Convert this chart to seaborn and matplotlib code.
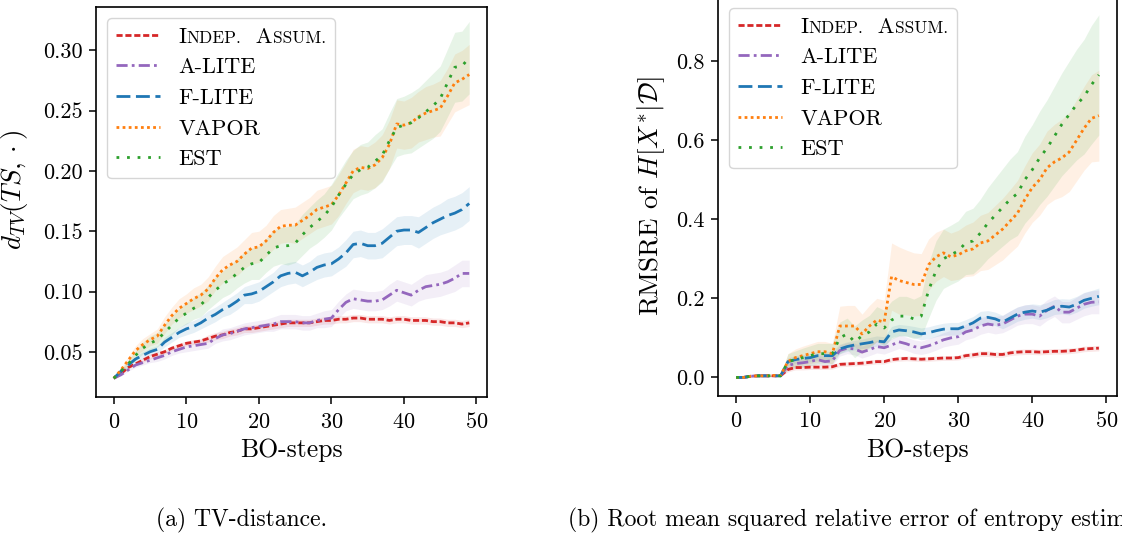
import matplotlib
matplotlib.use("Agg")
import matplotlib.pyplot as plt
from matplotlib.lines import Line2D
from matplotlib.offsetbox import TextArea, HPacker
import numpy as np
import pandas as pd
import seaborn as sns

# ---- data ------------------------------------------------------------------
steps = list(range(50))
methods = ["Indep. Assum.", "A-LITE", "F-LITE", "VAPOR", "EST"]

# (a) TV-distance, mean per BO-step
tv_indep = [0.028, 0.032, 0.037, 0.040, 0.043, 0.046, 0.048, 0.050, 0.053, 0.055,
            0.057, 0.058, 0.059, 0.061, 0.063, 0.064, 0.066, 0.067, 0.069, 0.069,
            0.070, 0.071, 0.072, 0.073, 0.074, 0.074, 0.074, 0.074, 0.075, 0.076,
            0.076, 0.077, 0.077, 0.078, 0.078, 0.077, 0.077, 0.077, 0.076, 0.077,
            0.077, 0.076, 0.076, 0.076, 0.075, 0.075, 0.074, 0.074, 0.073, 0.074]
tv_alite = [0.028, 0.031, 0.035, 0.039, 0.041, 0.043, 0.045, 0.047, 0.050, 0.052,
            0.054, 0.055, 0.056, 0.057, 0.061, 0.064, 0.065, 0.067, 0.069, 0.070,
            0.071, 0.072, 0.073, 0.075, 0.075, 0.075, 0.074, 0.074, 0.076, 0.077,
            0.078, 0.085, 0.091, 0.094, 0.093, 0.092, 0.092, 0.093, 0.097, 0.101,
            0.099, 0.097, 0.101, 0.104, 0.105, 0.106, 0.108, 0.111, 0.115, 0.115]
tv_flite = [0.028, 0.034, 0.039, 0.044, 0.047, 0.050, 0.052, 0.058, 0.062, 0.066,
            0.069, 0.071, 0.074, 0.078, 0.081, 0.085, 0.088, 0.092, 0.097, 0.098,
            0.100, 0.104, 0.108, 0.113, 0.115, 0.116, 0.113, 0.116, 0.120, 0.122,
            0.123, 0.127, 0.132, 0.139, 0.140, 0.138, 0.138, 0.140, 0.145, 0.150,
            0.151, 0.151, 0.149, 0.153, 0.157, 0.160, 0.163, 0.165, 0.168, 0.173]
tv_vapor = [0.028, 0.035, 0.043, 0.051, 0.056, 0.060, 0.063, 0.072, 0.080, 0.086,
            0.090, 0.094, 0.097, 0.102, 0.111, 0.118, 0.122, 0.125, 0.131, 0.136,
            0.137, 0.142, 0.149, 0.154, 0.155, 0.155, 0.159, 0.163, 0.168, 0.170,
            0.172, 0.180, 0.190, 0.200, 0.203, 0.202, 0.205, 0.211, 0.222, 0.239,
            0.238, 0.240, 0.245, 0.248, 0.250, 0.252, 0.262, 0.273, 0.276, 0.280]
tv_est = [0.028, 0.034, 0.040, 0.047, 0.053, 0.057, 0.060, 0.066, 0.072, 0.078,
          0.082, 0.086, 0.089, 0.095, 0.101, 0.106, 0.110, 0.115, 0.120, 0.123,
          0.124, 0.130, 0.136, 0.138, 0.138, 0.140, 0.147, 0.153, 0.158, 0.163,
          0.170, 0.180, 0.189, 0.197, 0.201, 0.203, 0.208, 0.213, 0.225, 0.236,
          0.238, 0.240, 0.244, 0.249, 0.254, 0.260, 0.273, 0.286, 0.287, 0.294]

# (a) half-width of the shaded band
tv_indep_err = [0.000, 0.001, 0.001, 0.001, 0.002, 0.002, 0.002, 0.002, 0.002, 0.002,
                0.002, 0.002, 0.002, 0.003, 0.003, 0.003, 0.003, 0.003, 0.003, 0.003,
                0.003, 0.003, 0.003, 0.003, 0.003, 0.003, 0.003, 0.003, 0.003, 0.003,
                0.003, 0.003, 0.003, 0.003, 0.003, 0.003, 0.003, 0.003, 0.003, 0.003,
                0.003, 0.003, 0.003, 0.003, 0.003, 0.003, 0.003, 0.003, 0.003, 0.003]
tv_alite_err = [0.000, 0.001, 0.001, 0.002, 0.002, 0.002, 0.003, 0.003, 0.003, 0.003,
                0.004, 0.004, 0.004, 0.004, 0.004, 0.005, 0.005, 0.005, 0.005, 0.005,
                0.005, 0.005, 0.006, 0.006, 0.006, 0.006, 0.006, 0.006, 0.006, 0.007,
                0.007, 0.007, 0.007, 0.008, 0.008, 0.008, 0.008, 0.008, 0.009, 0.009,
                0.009, 0.009, 0.009, 0.010, 0.010, 0.010, 0.010, 0.011, 0.011, 0.011]
tv_flite_err = [0.000, 0.001, 0.002, 0.002, 0.003, 0.003, 0.003, 0.004, 0.004, 0.004,
                0.005, 0.005, 0.005, 0.006, 0.006, 0.006, 0.007, 0.007, 0.007, 0.008,
                0.008, 0.008, 0.008, 0.009, 0.009, 0.009, 0.009, 0.009, 0.010, 0.010,
                0.010, 0.010, 0.011, 0.011, 0.011, 0.011, 0.011, 0.012, 0.012, 0.012,
                0.012, 0.012, 0.013, 0.013, 0.013, 0.013, 0.014, 0.014, 0.014, 0.014]
tv_vapor_err = [0.000, 0.002, 0.003, 0.004, 0.005, 0.005, 0.006, 0.007, 0.007, 0.008,
                0.008, 0.009, 0.009, 0.010, 0.010, 0.011, 0.011, 0.012, 0.012, 0.013,
                0.013, 0.013, 0.014, 0.014, 0.014, 0.015, 0.015, 0.015, 0.016, 0.016,
                0.016, 0.017, 0.017, 0.018, 0.018, 0.018, 0.019, 0.019, 0.020, 0.020,
                0.020, 0.021, 0.021, 0.022, 0.022, 0.023, 0.023, 0.024, 0.024, 0.025]
tv_est_err = [0.000, 0.002, 0.003, 0.004, 0.005, 0.006, 0.006, 0.007, 0.008, 0.008,
              0.009, 0.009, 0.010, 0.010, 0.011, 0.011, 0.012, 0.012, 0.013, 0.013,
              0.014, 0.014, 0.015, 0.015, 0.016, 0.016, 0.017, 0.017, 0.018, 0.018,
              0.019, 0.019, 0.020, 0.020, 0.021, 0.021, 0.022, 0.022, 0.023, 0.024,
              0.024, 0.025, 0.025, 0.026, 0.027, 0.027, 0.028, 0.029, 0.029, 0.030]

# (b) RMSRE of the entropy estimate, mean per BO-step
rm_indep = [0.000, 0.000, 0.003, 0.004, 0.004, 0.004, 0.004, 0.020, 0.025, 0.025,
            0.026, 0.026, 0.026, 0.027, 0.033, 0.034, 0.035, 0.036, 0.038, 0.040,
            0.040, 0.045, 0.047, 0.048, 0.047, 0.046, 0.047, 0.048, 0.049, 0.049,
            0.050, 0.055, 0.057, 0.060, 0.060, 0.058, 0.058, 0.062, 0.064, 0.065,
            0.065, 0.064, 0.065, 0.066, 0.066, 0.067, 0.069, 0.072, 0.073, 0.074]
rm_alite = [0.000, 0.000, 0.003, 0.004, 0.004, 0.004, 0.004, 0.030, 0.035, 0.037,
            0.040, 0.045, 0.040, 0.042, 0.068, 0.074, 0.072, 0.064, 0.070, 0.078,
            0.075, 0.082, 0.090, 0.085, 0.078, 0.075, 0.080, 0.087, 0.095, 0.100,
            0.103, 0.115, 0.120, 0.130, 0.135, 0.132, 0.135, 0.145, 0.155, 0.160,
            0.160, 0.155, 0.170, 0.180, 0.165, 0.165, 0.175, 0.185, 0.190, 0.191]
rm_flite = [0.000, 0.000, 0.003, 0.004, 0.004, 0.004, 0.004, 0.040, 0.045, 0.048,
            0.050, 0.055, 0.055, 0.055, 0.072, 0.078, 0.082, 0.085, 0.088, 0.092,
            0.090, 0.115, 0.120, 0.118, 0.115, 0.110, 0.113, 0.118, 0.122, 0.123,
            0.123, 0.130, 0.138, 0.150, 0.152, 0.148, 0.140, 0.150, 0.160, 0.165,
            0.168, 0.165, 0.170, 0.178, 0.180, 0.178, 0.185, 0.195, 0.200, 0.205]
rm_vapor = [0.000, 0.000, 0.003, 0.004, 0.004, 0.005, 0.005, 0.040, 0.050, 0.055,
            0.060, 0.065, 0.065, 0.060, 0.130, 0.130, 0.130, 0.110, 0.130, 0.145,
            0.140, 0.255, 0.245, 0.240, 0.235, 0.235, 0.285, 0.305, 0.315, 0.305,
            0.310, 0.320, 0.325, 0.340, 0.345, 0.360, 0.375, 0.395, 0.415, 0.450,
            0.480, 0.500, 0.530, 0.545, 0.555, 0.570, 0.600, 0.630, 0.655, 0.662]
rm_est = [0.000, 0.000, 0.003, 0.004, 0.004, 0.004, 0.004, 0.040, 0.045, 0.050,
          0.055, 0.060, 0.060, 0.060, 0.100, 0.110, 0.090, 0.105, 0.115, 0.135,
          0.125, 0.145, 0.155, 0.155, 0.148, 0.155, 0.220, 0.270, 0.300, 0.310,
          0.320, 0.340, 0.345, 0.365, 0.390, 0.410, 0.430, 0.450, 0.465, 0.500,
          0.525, 0.555, 0.580, 0.610, 0.640, 0.665, 0.690, 0.710, 0.740, 0.765]

# (b) half-width of the shaded band
rm_indep_err = [0.000, 0.000, 0.001, 0.001, 0.001, 0.001, 0.001, 0.006, 0.006, 0.006,
                0.006, 0.006, 0.006, 0.006, 0.006, 0.006, 0.006, 0.006, 0.006, 0.006,
                0.006, 0.006, 0.006, 0.006, 0.006, 0.006, 0.006, 0.006, 0.006, 0.006,
                0.006, 0.007, 0.007, 0.007, 0.007, 0.007, 0.007, 0.007, 0.007, 0.007,
                0.007, 0.007, 0.007, 0.007, 0.007, 0.007, 0.007, 0.007, 0.007, 0.007]
rm_alite_err = [0.000, 0.000, 0.001, 0.001, 0.001, 0.001, 0.001, 0.010, 0.010, 0.011,
                0.011, 0.012, 0.012, 0.012, 0.014, 0.014, 0.015, 0.015, 0.015, 0.016,
                0.016, 0.016, 0.017, 0.017, 0.017, 0.017, 0.018, 0.018, 0.018, 0.019,
                0.019, 0.020, 0.020, 0.021, 0.021, 0.022, 0.022, 0.023, 0.023, 0.024,
                0.024, 0.025, 0.026, 0.026, 0.027, 0.027, 0.028, 0.029, 0.029, 0.030]
rm_flite_err = [0.000, 0.000, 0.001, 0.001, 0.001, 0.001, 0.001, 0.010, 0.010, 0.010,
                0.010, 0.011, 0.011, 0.011, 0.012, 0.012, 0.012, 0.012, 0.013, 0.013,
                0.013, 0.014, 0.014, 0.014, 0.014, 0.015, 0.015, 0.015, 0.015, 0.016,
                0.016, 0.016, 0.016, 0.017, 0.017, 0.017, 0.017, 0.018, 0.018, 0.018,
                0.018, 0.019, 0.019, 0.019, 0.019, 0.020, 0.020, 0.020, 0.020, 0.021]
rm_vapor_err = [0.000, 0.000, 0.001, 0.001, 0.001, 0.001, 0.001, 0.020, 0.022, 0.024,
                0.025, 0.026, 0.026, 0.026, 0.050, 0.052, 0.052, 0.050, 0.052, 0.055,
                0.055, 0.085, 0.085, 0.082, 0.080, 0.078, 0.065, 0.062, 0.060, 0.060,
                0.062, 0.065, 0.068, 0.070, 0.072, 0.075, 0.078, 0.080, 0.083, 0.085,
                0.088, 0.090, 0.093, 0.095, 0.098, 0.100, 0.103, 0.106, 0.110, 0.115]
rm_est_err = [0.000, 0.000, 0.001, 0.001, 0.001, 0.001, 0.001, 0.020, 0.022, 0.024,
              0.025, 0.026, 0.026, 0.026, 0.040, 0.040, 0.040, 0.040, 0.042, 0.044,
              0.045, 0.048, 0.050, 0.050, 0.050, 0.052, 0.070, 0.075, 0.075, 0.075,
              0.076, 0.080, 0.083, 0.086, 0.090, 0.094, 0.098, 0.102, 0.106, 0.110,
              0.114, 0.118, 0.122, 0.126, 0.130, 0.135, 0.140, 0.145, 0.150, 0.152]

tv_means = [tv_indep, tv_alite, tv_flite, tv_vapor, tv_est]
tv_errs = [tv_indep_err, tv_alite_err, tv_flite_err, tv_vapor_err, tv_est_err]
rm_means = [rm_indep, rm_alite, rm_flite, rm_vapor, rm_est]
rm_errs = [rm_indep_err, rm_alite_err, rm_flite_err, rm_vapor_err, rm_est_err]

# ---- styling ------------------------------------------------------------------
palette = {"Indep. Assum.": "#d62728", "A-LITE": "#9467bd", "F-LITE": "#1f77b4",
           "VAPOR": "#ff7f0e", "EST": "#2ca02c"}
dashes = {"Indep. Assum.": (2.2, 1.0), "A-LITE": (4.0, 1.5, 1.0, 1.5),
          "F-LITE": (5.0, 2.0), "VAPOR": (1.0, 1.2), "EST": (1.0, 2.8)}
LW = 2.0

sns.set_style("ticks", rc={"axes.edgecolor": "black", "xtick.color": "black",
                           "ytick.color": "black", "text.color": "black",
                           "axes.labelcolor": "black"})
plt.rcParams["font.family"] = ["cmr10", "DejaVu Serif"]
plt.rcParams["mathtext.fontset"] = "cm"
plt.rcParams["axes.formatter.use_mathtext"] = True
plt.rcParams["axes.unicode_minus"] = False
plt.rcParams["xtick.labelsize"] = 16
plt.rcParams["ytick.labelsize"] = 16
plt.rcParams["legend.fontsize"] = 16
plt.rcParams["axes.linewidth"] = 1.2
plt.rcParams["xtick.major.width"] = 1.1
plt.rcParams["ytick.major.width"] = 1.1
plt.rcParams["xtick.major.size"] = 5
plt.rcParams["ytick.major.size"] = 5
plt.rcParams["xtick.major.pad"] = 6
plt.rcParams["ytick.major.pad"] = 4.5


def long_frame(means):
    rows = []
    for name, vals in zip(methods, means):
        for s, v in zip(steps, vals):
            rows.append({"step": s, "value": v, "method": name})
    return pd.DataFrame(rows)


def draw_panel(ax, means, errs):
    for name, m, e in zip(methods, means, errs):
        m = np.asarray(m)
        e = np.asarray(e)
        ax.fill_between(steps, m - e, m + e, color=palette[name], alpha=0.11, lw=0)
    sns.lineplot(data=long_frame(means), x="step", y="value", hue="method",
                 style="method", hue_order=methods, style_order=methods,
                 palette=palette, dashes=dashes, lw=LW, legend=False, ax=ax)
    for sp in ax.spines.values():
        sp.set_visible(True)
    ax.set_xticks([0, 10, 20, 30, 40, 50])
    ax.set_xlabel("BO-steps", fontsize=18.5)


def small_caps_legend(fig, ax):
    handles = [Line2D([], [], color=palette[n], lw=LW, dashes=dashes[n]) for n in methods]
    leg = ax.legend(handles, methods, loc="upper left", framealpha=0.8,
                    edgecolor="#cccccc", fancybox=True, handlelength=2.0)
    fs = plt.rcParams["legend.fontsize"]
    parts = [("I", fs), ("NDEP.", fs * 0.78), ("  A", fs), ("SSUM.", fs * 0.78)]
    sc = HPacker(children=[TextArea(t, textprops=dict(fontsize=s)) for t, s in parts],
                 align="baseline", pad=0, sep=0)
    sc.set_figure(fig)
    item = leg._legend_handle_box.get_children()[0].get_children()[0]
    item.get_children()[1] = sc
    return leg


fig = plt.figure(figsize=(11.22, 5.35), dpi=100)
ax1 = fig.add_axes([96 / 1122, 1 - 397 / 535, 391 / 1122, 390 / 535])
ax2 = fig.add_axes([718 / 1122, 1 - 396 / 535, 399 / 1122, 399 / 535])

draw_panel(ax1, tv_means, tv_errs)
ax1.set_ylim(0.0125, 0.336)
ax1.set_yticks([0.05, 0.10, 0.15, 0.20, 0.25, 0.30])
ax1.set_yticklabels(["0.05", "0.10", "0.15", "0.20", "0.25", "0.30"])
ax1.set_ylabel(r"$d_{TV}(TS,\cdot)$", fontsize=19.5)
ax1.yaxis.set_label_coords(-0.168, 0.53)
ax1.xaxis.set_label_coords(0.5, -0.106)
small_caps_legend(fig, ax1)

draw_panel(ax2, rm_means, rm_errs)
ax2.set_ylim(-0.047, 0.962)
ax2.set_yticks([0.0, 0.2, 0.4, 0.6, 0.8])
ax2.set_yticklabels(["0.0", "0.2", "0.4", "0.6", "0.8"])
ax2.set_ylabel(r"RMSRE of $H[X^{*}|\mathcal{D}]$", fontsize=19.5)
ax2.yaxis.set_label_coords(-0.128, 0.5)
ax2.xaxis.set_label_coords(0.5, -0.106)
small_caps_legend(fig, ax2)

fig.text(242 / 1122, 1 - 520 / 535, "(a) TV-distance.", ha="center", va="center",
         fontsize=17)
fig.text(568 / 1122, 1 - 520 / 535,
         "(b) Root mean squared relative error of entropy estimation.",
         ha="left", va="center", fontsize=17)

fig.savefig("out.png", dpi=100)
